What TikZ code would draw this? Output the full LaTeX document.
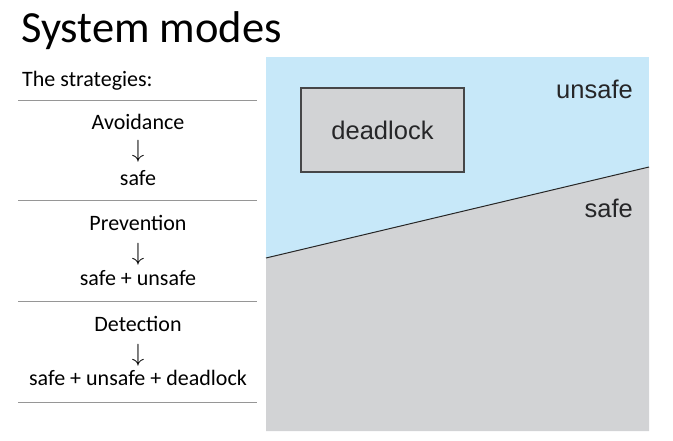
\documentclass[tikz,border=0pt]{standalone}
\usepackage{fontspec}
\setmainfont{Carlito}
\newfontfamily\helv{Liberation Sans}
\usetikzlibrary{positioning}
\definecolor{unsafeblue}{RGB}{199,232,249}
\definecolor{safegray}{RGB}{210,211,213}
\definecolor{boxedge}{RGB}{70,70,72}
\definecolor{textgray}{RGB}{38,38,40}
\definecolor{rulegray}{RGB}{150,150,150}

\begin{document}
\begin{tikzpicture}[x=1pt,y=-1pt,
  item/.style={font=\fontsize{22}{26}\selectfont, inner sep=0pt, anchor=base},
  arr/.style={font=\fontsize{26}{30}\selectfont, inner sep=0pt},
  sep/.style={draw=rulegray, line width=0.9pt},
  region/.style={font=\helv\fontsize{25.5}{30}\selectfont, text=textgray, inner sep=0pt}]
\useasboundingbox (0,0) rectangle (673,440);

% Title
\node[font=\fontsize{44.5}{50}\selectfont, inner sep=0pt, anchor=base west] (title) at (21,42) {System modes};
\node[item, anchor=base west] (strat) at (22,86) {The strategies:};

% Separators
\draw[sep] (18,100) -- (257,100);
\draw[sep] (18,200) -- (257,200);
\draw[sep] (18,301) -- (257,301);
\draw[sep] (18,402) -- (257,402);

% Strategies
\node[item] (avoid) at (138,129) {Avoidance};
\node[arr] (avoidarr) at (138,151) {$\downarrow$};
\node[item] (avoidres) at (138,185) {safe};

\node[item] (prev) at (138,230) {Prevention};
\node[arr] (prevarr) at (138,254) {$\downarrow$};
\node[item] (prevres) at (138,285) {safe + unsafe};

\node[item] (detect) at (138,331) {Detection};
\node[arr] (detectarr) at (138,355) {$\downarrow$};
\node[item] (detectres) at (138,385) {safe + unsafe + deadlock};

% State space
\fill[unsafeblue] (266,57) rectangle (649,431);
\fill[safegray] (266,258) -- (649,167) -- (649,431) -- (266,431) -- cycle;
\draw[line width=1pt, black!85] (266,258) -- (649,167);

\node[region, draw=boxedge, line width=1.2pt, fill=safegray, minimum width=163pt, minimum height=84pt] (dead) at (382.5,130) {deadlock};
\node[region, anchor=base east] (unsafe) at (633,98) {unsafe};
\node[region, anchor=base east] (safe) at (633,217) {safe};

\end{tikzpicture}
\end{document}
